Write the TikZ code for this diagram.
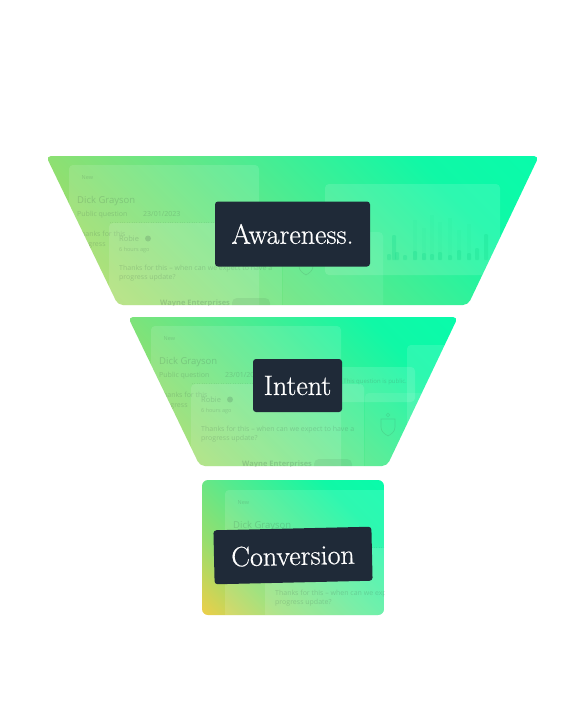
\documentclass[tikz,border=0pt]{standalone}
\usepackage{fontspec}
\newfontfamily\ui{Open Sans}
\newfontfamily\lblfont{Latin Modern Roman}[FakeBold=0.6]
\definecolor{navy}{HTML}{1F2A38}
\definecolor{mkc}{HTML}{3C5A48}
\definecolor{barc}{HTML}{12D88A}
\definecolor{gY}{HTML}{EECE44}
\definecolor{gY2}{HTML}{D0D858}
\definecolor{gL}{HTML}{96DE6E}
\definecolor{gM}{HTML}{56EA8E}
\definecolor{gT}{HTML}{10F8A6}
\definecolor{gTT}{HTML}{00FFB0}
\definecolor{oY}{HTML}{FFC038}
\definecolor{oY2}{HTML}{F0CE48}
\pgfdeclarehorizontalshading{fgrad}{100bp}{color(0bp)=(gY); color(10bp)=(gY2); color(28bp)=(gL); color(50bp)=(gM); color(72bp)=(gT); color(100bp)=(gTT)}
\pgfdeclarehorizontalshading{bgrad}{100bp}{color(0bp)=(oY); color(14bp)=(oY2); color(32bp)=(gL); color(50bp)=(gM); color(72bp)=(gT); color(100bp)=(gTT)}
\newcommand\mkfont[1]{\ui\fontsize{#1}{#1}\selectfont}
\newcommand\mymockup{%
  % first card
  \fill[card] (69,165) rectangle (259,340);
  \node[mk, font=\mkfont{5.5}] at (81.5,179) {New};
  \node[mk, font=\mkfont{9.5}] at (77,203) {Dick Grayson};
  \node[mk, font=\mkfont{7}] at (77,216) {Public question};
  \node[mk, font=\mkfont{7}] at (143,216) {23/01/2023};
  \node[mk, font=\mkfont{7}] at (77,236) {Thanks for this};
  \node[mk, font=\mkfont{7}] at (77,246) {progress};
  % second card
  \fill[card] (109,223) rectangle (282,345);
  \draw[mkc, opacity=0.10, dotted] (110,222) -- (255,222);
  \node[mk, font=\mkfont{7.5}] at (119,241.5) {Robie};
  \fill[mkc, opacity=0.2] (148,238.5) circle (3);
  \node[mk, font=\mkfont{5.5}] at (119,251.5) {6 hours ago};
  \node[mk, font=\mkfont{7}] at (119,270) {Thanks for this – when can we expect to have a};
  \node[mk, font=\mkfont{7}] at (119,279) {progress update?};
  \node[mk, font=\bfseries\mkfont{7.5}] at (160,305) {Wayne Enterprises};
  \fill[mkc, opacity=0.10, rounded corners=5pt] (232,298) rectangle (270,311);
  % question box
  \fill[card, fill opacity=0.12] (250,206) rectangle (333,241);
  \node[mk, font=\mkfont{6}, anchor=base east] at (325,222) {This question is public.};
  % chart panel
  \fill[card, fill opacity=0.12] (325,184) rectangle (500,275);
  \foreach \bx/\bh in {413/40,422/32,430/45,438/38,448/42,457/30,467/36}
    \fill[barc, opacity=0.06] (\bx,260) rectangle ++(4,-\bh);
  \foreach \bx/\bh in {387/6,392/25,395/8,403/5,413/9,422/7,430/6,438/8,448/5,457/10,467/7,475/12,484/26}
    \fill[barc, opacity=0.25, rounded corners=1pt] (\bx,260) rectangle ++(4,-\bh);
  % shield card
  \fill[card, fill opacity=0.08] (283,232) rectangle (383,345);
  \draw[mkc, opacity=0.16, line width=0.6pt] (299,258) -- (313,258) -- (313,266) .. controls (313,271) and (309,273) .. (306,275) .. controls (303,273) and (299,271) .. (299,266) -- cycle;
  \draw[mkc, opacity=0.16, line width=0.5pt] (306,254) circle (1.8);
}
\begin{document}
\begin{tikzpicture}[x=1pt,y=-1pt,
  lbl/.style={fill=navy, rounded corners=3pt, text=white, inner sep=0pt,
    font=\lblfont\fontsize{28}{30}\selectfont},
  card/.style={fill=white, fill opacity=0.12, rounded corners=4pt},
  mk/.style={text=mkc, text opacity=0.22, inner sep=0pt, anchor=base west},
  funnel/.style={rounded corners=5pt}]
\useasboundingbox (0,0) rectangle (569,710);
\fill[white] (0,0) rectangle (569,710);
% top stage
\begin{scope}
  \clip[funnel] (46,156) -- (539,156) -- (468,305) -- (118,305) -- cycle;
  \shade[shading=fgrad, shading angle=45] (46,156) rectangle (539,305);
  \mymockup
\end{scope}
% middle stage
\begin{scope}
  \clip[funnel] (128,317) -- (458,317) -- (387,466) -- (200,466) -- cycle;
  \shade[shading=fgrad, shading angle=45] (128,317) rectangle (458,466);
  \begin{scope}[shift={(82,161)}]\mymockup\end{scope}
\end{scope}
% bottom stage
\begin{scope}
  \clip[rounded corners=6pt] (202,480) rectangle (384,615);
  \shade[shading=bgrad, shading angle=45] (202,480) rectangle (384,615);
  \begin{scope}[shift={(156,325)}]\mymockup\end{scope}
\end{scope}
% labels
\node[lbl, minimum width=155pt, minimum height=65pt] (aw) at (292.5,234) {Awareness.};
\node[lbl, minimum width=89pt, minimum height=53pt] (in) at (297.5,385.5) {Intent};
\node[lbl, minimum width=158pt, minimum height=54pt, rotate=1.3] (co) at (293,555.5) {Conversion};
\end{tikzpicture}
\end{document}
